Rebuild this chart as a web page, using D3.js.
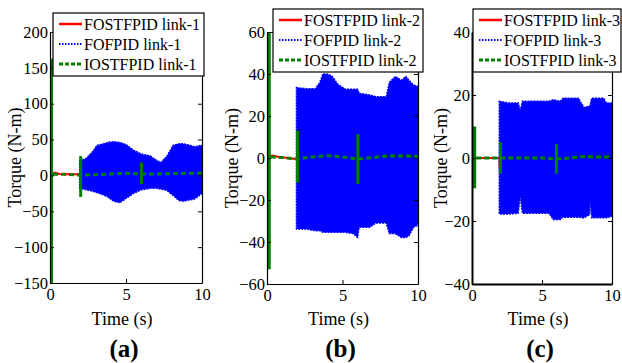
<!DOCTYPE html>
<html>
<head>
<meta charset="utf-8">
<script src="https://cdn.jsdelivr.net/npm/d3@7"></script>
</head>
<body style="margin:0; background:#fff">
<script>
const width = 622;
const height = 363;
const serif = "'Liberation Serif'";

// shared
const timeTicks = [0, 5, 10];
const legendNames = ["FOSTFPID", "FOFPID", "IOSTFPID"];
const panelTags = ["(a)", "(b)", "(c)"];

// y ticks per link
const yTicksA = [-150, -100, -50, 0, 50, 100, 150, 200];
const yTicksB = [-60, -40, -20, 0, 20, 40, 60];
const yTicksC = [-40, -20, 0, 20, 40];

// FOFPID (blue) oscillation envelope
const envTimeA = [1.95, 2.4, 2.8, 3.1, 3.5, 3.8, 4.2, 4.6, 5.0, 5.5, 6.0, 6.6, 7.0, 7.3, 7.7, 8.1, 8.5, 8.8, 9.2, 9.5, 10];
const envHighA = [20, 24, 33, 42, 44, 46, 47, 46, 43, 35, 30, 27, 21, 18, 27, 42, 44, 44, 42, 40, 42];
const envLowA  = [-18, -20, -22, -24, -27, -30, -36, -38, -32, -25, -20, -18, -18, -19, -21, -28, -35, -36, -34, -33, -25];

const envTimeB = [1.95, 2.6, 3.2, 3.5, 3.7, 4.0, 4.3, 4.7, 5.2, 5.7, 6.0, 6.1, 6.8, 7.2, 7.9, 8.1, 8.5, 8.9, 9.2, 9.4, 9.7, 10];
const envHighB = [33.5, 33, 33, 36, 40, 40, 39, 35, 32.7, 32.7, 32.7, 30.8, 30, 29.2, 29.2, 36, 38.8, 37, 38.8, 37, 34.8, 34];
const envLowB  = [-33.8, -33.8, -34.6, -34.6, -35.4, -35.4, -35.4, -35.4, -35.4, -36, -37.8, -33, -33, -31, -31, -36, -36, -37.8, -37.8, -37, -33, -32];

const envTimeC = [1.95, 2.6, 3.3, 3.45, 3.6, 4.5, 5.5, 5.8, 6.3, 6.5, 7.2, 7.6, 8.0, 8.4, 8.45, 8.55, 9.0, 9.4, 9.6, 10];
const envHighC = [18, 17.5, 17.5, 15, 18, 18, 18, 18.5, 18, 19, 19, 19, 16, 16.5, 17, 19, 19, 19, 17.5, 17.5];
const envLowC  = [-17.8, -17.8, -17.5, -12, -17.5, -17.5, -17.5, -19.5, -19.5, -18.8, -18.8, -18.8, -19, -18, -12, -19, -19, -19, -19, -18.5];

// FOSTFPID (red), visible before t = 2
const redTimeA = [0.15, 0.3, 0.45, 0.6, 1.0, 1.5, 1.9, 2.0];
const redValA  = [2, 4, 3, 2, 1.5, 1.5, 1.5, -1];
const redTimeB = [0.2, 0.35, 0.8, 1.4, 1.9, 2.0];
const redValB  = [1, 1.2, 0.5, 0, -0.5, -0.5];
const redTimeC = [0.25, 0.8, 1.5, 1.95, 2.0, 2.02, 2.06];
const redValC  = [0, 0, 0, 0, -5, 0, 0];

// IOSTFPID (green) slow trend
const greenTimeA = [0.2, 1.0, 2.0, 3.0, 4.0, 5.0, 6.0, 7.0, 8.0, 9.0, 10];
const greenValA  = [1.5, 1.5, 0.5, 1, 2, 3, 2, 2, 2.5, 3, 3];
const greenTimeB = [0.25, 1.0, 2.0, 3.0, 4.0, 5.0, 6.0, 7.0, 8.0, 9.0, 10];
const greenValB  = [0.5, 0.2, -0.5, 0.5, 1.1, 0.5, -0.5, 0.2, 1, 1, 0.7];
const greenTimeC = [0.3, 1.0, 2.0, 3.0, 4.0, 5.0, 6.0, 7.0, 8.0, 9.0, 10];
const greenValC  = [0, 0, 0, 0, 0, 0, -0.3, 0, 0.5, 0.3, 0.3];

// IOSTFPID (green) bursts: start time, end time, min, max
const spikeStartA = [0.0, 1.92, 5.92];
const spikeEndA   = [0.2, 2.1, 6.1];
const spikeLowA   = [-150, -30, -12];
const spikeHighA  = [163, 27, 18];
const spikeStartB = [0.0, 1.92, 5.92];
const spikeEndB   = [0.25, 2.1, 6.1];
const spikeLowB   = [-53, -11.6, -12.4];
const spikeHighB  = [60, 13, 11.4];
const spikeStartC = [0.0, 1.92, 5.92];
const spikeEndC   = [0.3, 2.1, 6.1];
const spikeLowC   = [-9.6, -5, -5];
const spikeHighC  = [10, 5, 4.5];

const zip = (ts, vs) => ts.map((t, i) => ({ t: t, v: vs[i] }));

const panels = [
  { left: 50, right: 202, top: 32, bottom: 283, yDomain: [-150, 200], yTicks: yTicksA,
    env: envTimeA.map((t, i) => ({ t: t, hi: envHighA[i], lo: envLowA[i] })),
    red: zip(redTimeA, redValA), green: zip(greenTimeA, greenValA),
    spikes: spikeStartA.map((s, i) => ({ s: s, e: spikeEndA[i], lo: spikeLowA[i], hi: spikeHighA[i] })),
    legend: { x: 53, y: 13, w: 151, h: 63 }, yLabelX: 14.5 },
  { left: 267, right: 418, top: 32, bottom: 284, yDomain: [-60, 60], yTicks: yTicksB,
    env: envTimeB.map((t, i) => ({ t: t, hi: envHighB[i], lo: envLowB[i] })),
    red: zip(redTimeB, redValB), green: zip(greenTimeB, greenValB),
    spikes: spikeStartB.map((s, i) => ({ s: s, e: spikeEndB[i], lo: spikeLowB[i], hi: spikeHighB[i] })),
    legend: { x: 273, y: 9, w: 150, h: 63 }, yLabelX: 232 },
  { left: 472, right: 612, top: 32, bottom: 284, yDomain: [-40, 40], yTicks: yTicksC,
    env: envTimeC.map((t, i) => ({ t: t, hi: envHighC[i], lo: envLowC[i] })),
    red: zip(redTimeC, redValC), green: zip(greenTimeC, greenValC),
    spikes: spikeStartC.map((s, i) => ({ s: s, e: spikeEndC[i], lo: spikeLowC[i], hi: spikeHighC[i] })),
    legend: { x: 473, y: 9, w: 148, h: 63 }, yLabelX: 441 }
];

const colors = { red: "#ff0000", blue: "#0000ff", green: "#008000" };

const svg = d3.select("body")
  .append("svg")
  .attr("width", width)
  .attr("height", height)
  .attr("font-family", "Liberation Serif")
  .style("display", "block");

panels.forEach((p, k) => {
  const xScale = d3.scaleLinear().domain([0, 10]).range([p.left, p.right]);
  const yScale = d3.scaleLinear().domain(p.yDomain).range([p.bottom, p.top]);
  const link = k + 1;

  // data
  const line = d3.line().x(d => xScale(d.t)).y(d => yScale(d.v));

  svg.append("path")
    .datum(p.red)
    .attr("d", line)
    .attr("fill", "none")
    .attr("stroke", colors.red)
    .attr("stroke-width", 2);

  svg.append("path")
    .datum(p.env)
    .attr("d", d3.area().x(d => xScale(d.t)).y0(d => yScale(d.lo)).y1(d => yScale(d.hi)))
    .attr("fill", colors.blue)
    .attr("stroke", colors.blue)
    .attr("stroke-width", 1.5)
    .attr("stroke-dasharray", "2,1");

  svg.append("path")
    .datum(p.green)
    .attr("d", line)
    .attr("fill", "none")
    .attr("stroke", colors.green)
    .attr("stroke-width", 3)
    .attr("stroke-dasharray", "5,3");

  svg.append("g")
    .selectAll("rect")
    .data(p.spikes)
    .join("rect")
    .attr("x", d => xScale(d.s))
    .attr("width", d => Math.max(3, xScale(d.e) - xScale(d.s)))
    .attr("y", d => yScale(d.hi))
    .attr("height", d => yScale(d.lo) - yScale(d.hi))
    .attr("fill", colors.green);

  // axes, MATLAB style ticks pointing inwards
  const xAxis = svg.append("g")
    .attr("transform", `translate(0, ${p.bottom})`)
    .call(d3.axisBottom(xScale).tickValues(timeTicks).tickSizeInner(-4).tickSizeOuter(0).tickPadding(5));
  const yAxis = svg.append("g")
    .attr("transform", `translate(${p.left}, 0)`)
    .call(d3.axisLeft(yScale).tickValues(p.yTicks).tickSizeInner(-4).tickSizeOuter(0).tickPadding(2));
  svg.append("g")
    .attr("transform", `translate(${p.right}, 0)`)
    .call(d3.axisRight(yScale).tickValues(p.yTicks).tickSizeInner(-4).tickSizeOuter(0).tickFormat(""));
  svg.append("g")
    .attr("transform", `translate(0, ${p.top})`)
    .call(d3.axisTop(xScale).tickValues(timeTicks).tickSizeInner(-4).tickSizeOuter(0).tickFormat(""));

  svg.selectAll("g").attr("font-family", null);
  svg.selectAll(".domain").attr("stroke", "#000").attr("stroke-width", 1.2);
  xAxis.select(".domain").attr("stroke-width", 2);
  yAxis.select(".domain").attr("stroke-width", 2);
  svg.selectAll(".tick text")
    .style("font-family", serif)
    .style("font-size", "16.5px")
    .attr("fill", "#000");

  // labels
  svg.append("text")
    .attr("transform", `translate(${p.yLabelX}, ${(p.top + p.bottom) / 2}) rotate(-90)`)
    .attr("text-anchor", "middle")
    .attr("dy", "0.35em")
    .style("font-family", serif)
    .style("font-size", "18px")
    .text("Torque (N-m)");

  const cx = (p.left + p.right) / 2;
  svg.append("text")
    .attr("x", cx - 4)
    .attr("y", 325)
    .attr("text-anchor", "middle")
    .style("font-family", serif)
    .style("font-size", "18px")
    .text("Time (s)");

  svg.append("text")
    .attr("x", cx - 2)
    .attr("y", 357)
    .attr("text-anchor", "middle")
    .style("font-family", serif)
    .style("font-size", "25px")
    .style("font-weight", "bold")
    .text(panelTags[k]);

  // legend
  const lg = svg.append("g").attr("transform", `translate(${p.legend.x}, ${p.legend.y})`);
  lg.append("rect")
    .attr("width", p.legend.w)
    .attr("height", p.legend.h)
    .attr("fill", "#fff")
    .attr("stroke", "#000")
    .attr("stroke-width", 1.2);

  const styles = [
    { c: colors.red, dash: null, w: 2.5 },
    { c: colors.blue, dash: "1.5,1.5", w: 2 },
    { c: colors.green, dash: "4,2", w: 3 }
  ];
  legendNames.forEach((name, i) => {
    const y = 11 + i * 20;
    lg.append("line")
      .attr("x1", 6).attr("x2", 29)
      .attr("y1", y).attr("y2", y)
      .attr("stroke", styles[i].c)
      .attr("stroke-width", styles[i].w)
      .attr("stroke-dasharray", styles[i].dash);
    lg.append("text")
      .attr("x", 31)
      .attr("y", y)
      .attr("dy", "0.35em")
      .style("font-family", serif)
      .style("font-size", "16px")
      .text(`${name} link-${link}`);
  });
});
</script>
</body>
</html>
